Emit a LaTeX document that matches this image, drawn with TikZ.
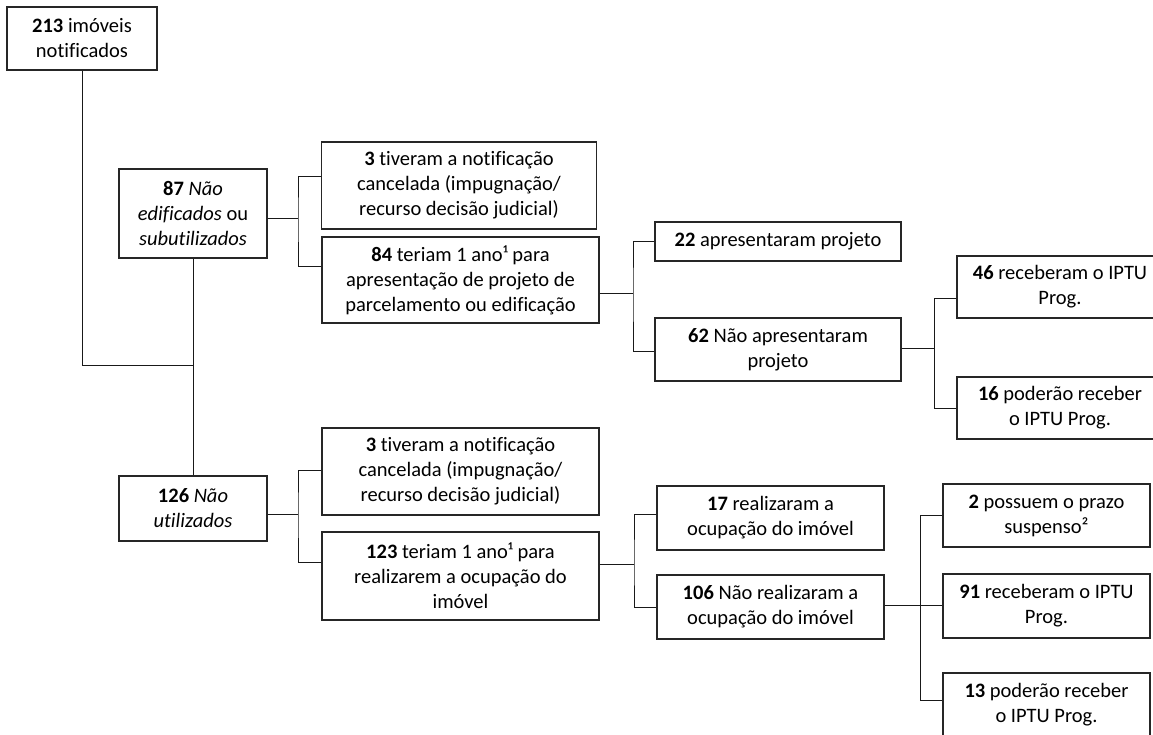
\documentclass[tikz,border=0pt]{standalone}
\usepackage{fontspec}
\setmainfont{Carlito}[Ligatures={NoCommon}]
\begin{document}
\begin{tikzpicture}[x=1pt,y=-1pt,
  box/.style={draw=black!85, line width=1.2pt, inner sep=0pt, align=center,
    font=\fontsize{20.5}{25}\selectfont, text=black},
  link/.style={draw=black!90, line width=0.9pt}]
\useasboundingbox (0,0) rectangle (1153,734);
\clip (0,0) rectangle (1153,734);

% root
\node[box, minimum width=150pt, minimum height=63pt] (b0) at (82,38.5)
  {\textbf{213} imóveis\\notificados};

% first group: not built / underused
\node[box, minimum width=148pt, minimum height=89pt] (b1) at (193,213.5)
  {\textbf{87} \textit{Não}\\\textit{edificados} ou\\\textit{subutilizados}};
\node[box, minimum width=275pt, minimum height=87pt] (b2) at (459,185.5)
  {\textbf{3} tiveram a notificação\\cancelada (impugnação/\\recurso decisão judicial)};
\node[box, minimum width=277pt, minimum height=86pt] (b3) at (460.5,280)
  {\textbf{84} teriam 1 ano¹ para\\apresentação de projeto de\\parcelamento ou edificação};
\node[box, minimum width=246pt, minimum height=39pt] (b5) at (778,241.5)
  {\textbf{22} apresentaram projeto};
\node[box, minimum width=246pt, minimum height=63pt] (b6) at (778,349.5)
  {\textbf{62} Não apresentaram\\projeto};
\node[box, minimum width=206pt, minimum height=62pt] (b7) at (1060,287)
  {\textbf{46} receberam o IPTU\\Prog.};
\node[box, minimum width=206pt, minimum height=62pt] (b8) at (1060,408)
  {\textbf{16} poderão receber\\o IPTU Prog.};

% second group: unused
\node[box, minimum width=148pt, minimum height=65pt] (b4) at (193,508.5)
  {\textbf{126} \textit{Não}\\\textit{utilizados}};
\node[box, minimum width=277pt, minimum height=87pt] (b9) at (460.5,471.5)
  {\textbf{3} tiveram a notificação\\cancelada (impugnação/\\recurso decisão judicial)};
\node[box, minimum width=277pt, minimum height=88pt] (b10) at (460.5,576)
  {\textbf{123} teriam 1 ano¹ para\\realizarem a ocupação do\\imóvel};
\node[box, minimum width=227pt, minimum height=64pt] (b11) at (770.5,518)
  {\textbf{17} realizaram a\\ocupação do imóvel};
\node[box, minimum width=227pt, minimum height=64pt] (b12) at (770.5,607)
  {\textbf{106} Não realizaram a\\ocupação do imóvel};
\node[box, minimum width=207pt, minimum height=63pt] (b13) at (1046.5,515.5)
  {\textbf{2} possuem o prazo\\suspenso²};
\node[box, minimum width=207pt, minimum height=64pt] (b14) at (1046.5,606)
  {\textbf{91} receberam o IPTU\\Prog.};
\node[box, minimum width=207pt, minimum height=63pt] (b15) at (1046.5,704.5)
  {\textbf{13} poderão receber\\o IPTU Prog.};

% junctions
\coordinate (j0) at (193,365);
\coordinate (j1) at (298,218);
\coordinate (j2) at (633,293);
\coordinate (j3) at (934,348);
\coordinate (j4) at (298,514);
\coordinate (j5) at (634,564);
\coordinate (j6) at (920,605);

% connectors
\draw[link] (b0.south) |- (j0);
\draw[link] (b1.south) -- (b4.north);

\draw[link] (b1.east |- j1) -- (j1);
\draw[link] ([yshift=9.5pt]b2.west) -| (j1) |- ([yshift=14pt]b3.west);

\draw[link] (b3.east |- j2) -- (j2);
\draw[link] (b5.west) -| (j2) |- ([yshift=-1.5pt]b6.west);

\draw[link] (b6.east |- j3) -- (j3);
\draw[link] ([yshift=-11pt]b7.west) -| (j3) |- (b8.west);

\draw[link] (b4.east |- j4) -- (j4);
\draw[link] ([yshift=1.5pt]b9.west) -| (j4) |- ([yshift=14pt]b10.west);

\draw[link] (b10.east |- j5) -- (j5);
\draw[link] ([yshift=4pt]b11.west) -| (j5) |- (b12.west);

\draw[link] (b12.east |- j6) -- (j6);
\draw[link] ([yshift=0.5pt]b13.west) -| (j6) |- ([yshift=4.5pt]b15.west);
\draw[link] (j6) -- (j6 -| b14.west);
\end{tikzpicture}
\end{document}
